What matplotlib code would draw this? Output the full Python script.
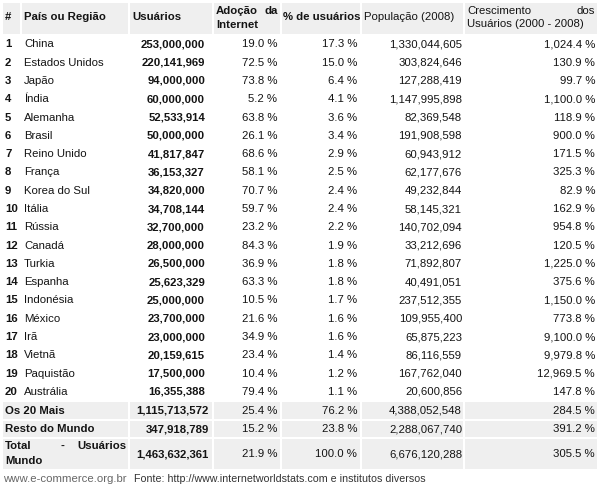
import matplotlib
matplotlib.use("Agg")
import matplotlib.pyplot as plt
from matplotlib.patches import Rectangle

plt.rcParams['font.family'] = ['Liberation Sans', 'DejaVu Sans']

countries = ["China", "Estados Unidos", "Japão", "Índia", "Alemanha", "Brasil",
             "Reino Unido", "França", "Korea do Sul", "Itália", "Rússia", "Canadá",
             "Turkia", "Espanha", "Indonésia", "México", "Irã", "Vietnã",
             "Paquistão", "Austrália"]
users = [253000000, 220141969, 94000000, 60000000, 52533914, 50000000,
         41817847, 36153327, 34820000, 34708144, 32700000, 28000000,
         26500000, 25623329, 25000000, 23700000, 23000000, 20159615,
         17500000, 16355388]
adoption = [19.0, 72.5, 73.8, 5.2, 63.8, 26.1, 68.6, 58.1, 70.7, 59.7,
            23.2, 84.3, 36.9, 63.3, 10.5, 21.6, 34.9, 23.4, 10.4, 79.4]
share = [17.3, 15.0, 6.4, 4.1, 3.6, 3.4, 2.9, 2.5, 2.4, 2.4,
         2.2, 1.9, 1.8, 1.8, 1.7, 1.6, 1.6, 1.4, 1.2, 1.1]
population = [1330044605, 303824646, 127288419, 1147995898, 82369548,
              191908598, 60943912, 62177676, 49232844, 58145321,
              140702094, 33212696, 71892807, 40491051, 237512355,
              109955400, 65875223, 86116559, 167762040, 20600856]
growth = [1024.4, 130.9, 99.7, 1100.0, 118.9, 900.0, 171.5, 325.3, 82.9, 162.9,
          954.8, 120.5, 1225.0, 375.6, 1150.0, 773.8, 9100.0, 9979.8, 12969.5, 147.8]

summary_labels = ["Os 20 Mais", "Resto do Mundo", "Total - Usuários Mundo"]
summary_users = [1115713572, 347918789, 1463632361]
summary_adoption = [25.4, 15.2, 21.9]
summary_share = [76.2, 23.8, 100.0]
summary_population = [4388052548, 2288067740, 6676120288]
summary_growth = [284.5, 391.2, 305.5]

W, H = 600, 494
fig = plt.figure(figsize=(W / 100, H / 100), dpi=100)
ax = fig.add_axes([0, 0, 1, 1])
ax.set_xlim(0, W)
ax.set_ylim(H, 0)
ax.axis('off')

FS = 8.2
TXT = '#141414'
GRAY = '#efefef'

# column cell bounds (left, right)
cols = [(3, 20), (22, 128), (130, 212), (214, 280), (282, 360), (362, 463), (465, 597)]


def pct(v):
    return f"{v:,.1f} %"


def t(x, y, s, ha='left', bold=False, color=TXT, size=FS):
    ax.text(x, y, s, ha=ha, va='center', fontsize=size,
            fontweight='bold' if bold else 'normal', color=color)


# header
for (l, r) in cols:
    ax.add_patch(Rectangle((l, 3), r - l, 31, facecolor=GRAY, edgecolor='none'))
t(5, 17, "#", bold=True)
t(24, 17, "País ou Região", bold=True)
t(132, 17, "Usuários", bold=True)
t(216, 11, "Adoção", bold=True)
t(278, 11, "da", ha='right', bold=True)
t(216, 25, "Internet", bold=True)
t(283, 17, "% de usuários", bold=True)
t(364, 17, "População (2008)")
t(467, 11, "Crescimento")
t(595, 11, "dos", ha='right')
t(467, 24, "Usuários (2000 - 2008)")

# body rows
y0, pitch = 44.4, 18.29
for i, name in enumerate(countries):
    y = y0 + pitch * i
    t(5, y, str(i + 1), bold=True)
    t(24, y, name)
    t(205, y, f"{users[i]:,}", ha='right', bold=True)
    t(277, y, pct(adoption[i]), ha='right')
    t(357, y, pct(share[i]), ha='right')
    t(462, y, f"{population[i]:,}", ha='right')
    t(595, y, pct(growth[i]), ha='right')

# summary rows
sum_cols = [(3, 128)] + cols[2:]
bands = [(402, 419), (421, 437), (439, 469)]
for k, (top, bot) in enumerate(bands):
    for (l, r) in sum_cols:
        ax.add_patch(Rectangle((l, top), r - l, bot - top, facecolor=GRAY, edgecolor='none'))
    yc = (top + bot) / 2
    if k < 2:
        t(5, yc, summary_labels[k], bold=True)
    else:
        words = summary_labels[k].split()
        t(5, 446, words[0], bold=True)
        t(62, 446, words[1], ha='center', bold=True)
        t(126, 446, words[2], ha='right', bold=True)
        t(5, 460.5, words[3], bold=True)
    t(209, yc, f"{summary_users[k]:,}", ha='right', bold=True)
    t(277, yc, pct(summary_adoption[k]), ha='right')
    t(357, yc, pct(summary_share[k]), ha='right')
    t(462, yc, f"{summary_population[k]:,}", ha='right')
    t(595, yc, pct(summary_growth[k]), ha='right')

# footer
t(3, 479, "www.e-commerce.org.br", color='#666666', size=8.2)
t(134, 479, "Fonte: http://www.internetworldstats.com e institutos diversos",
  color='#333333', size=7.7)

fig.savefig("out.png", dpi=100)
